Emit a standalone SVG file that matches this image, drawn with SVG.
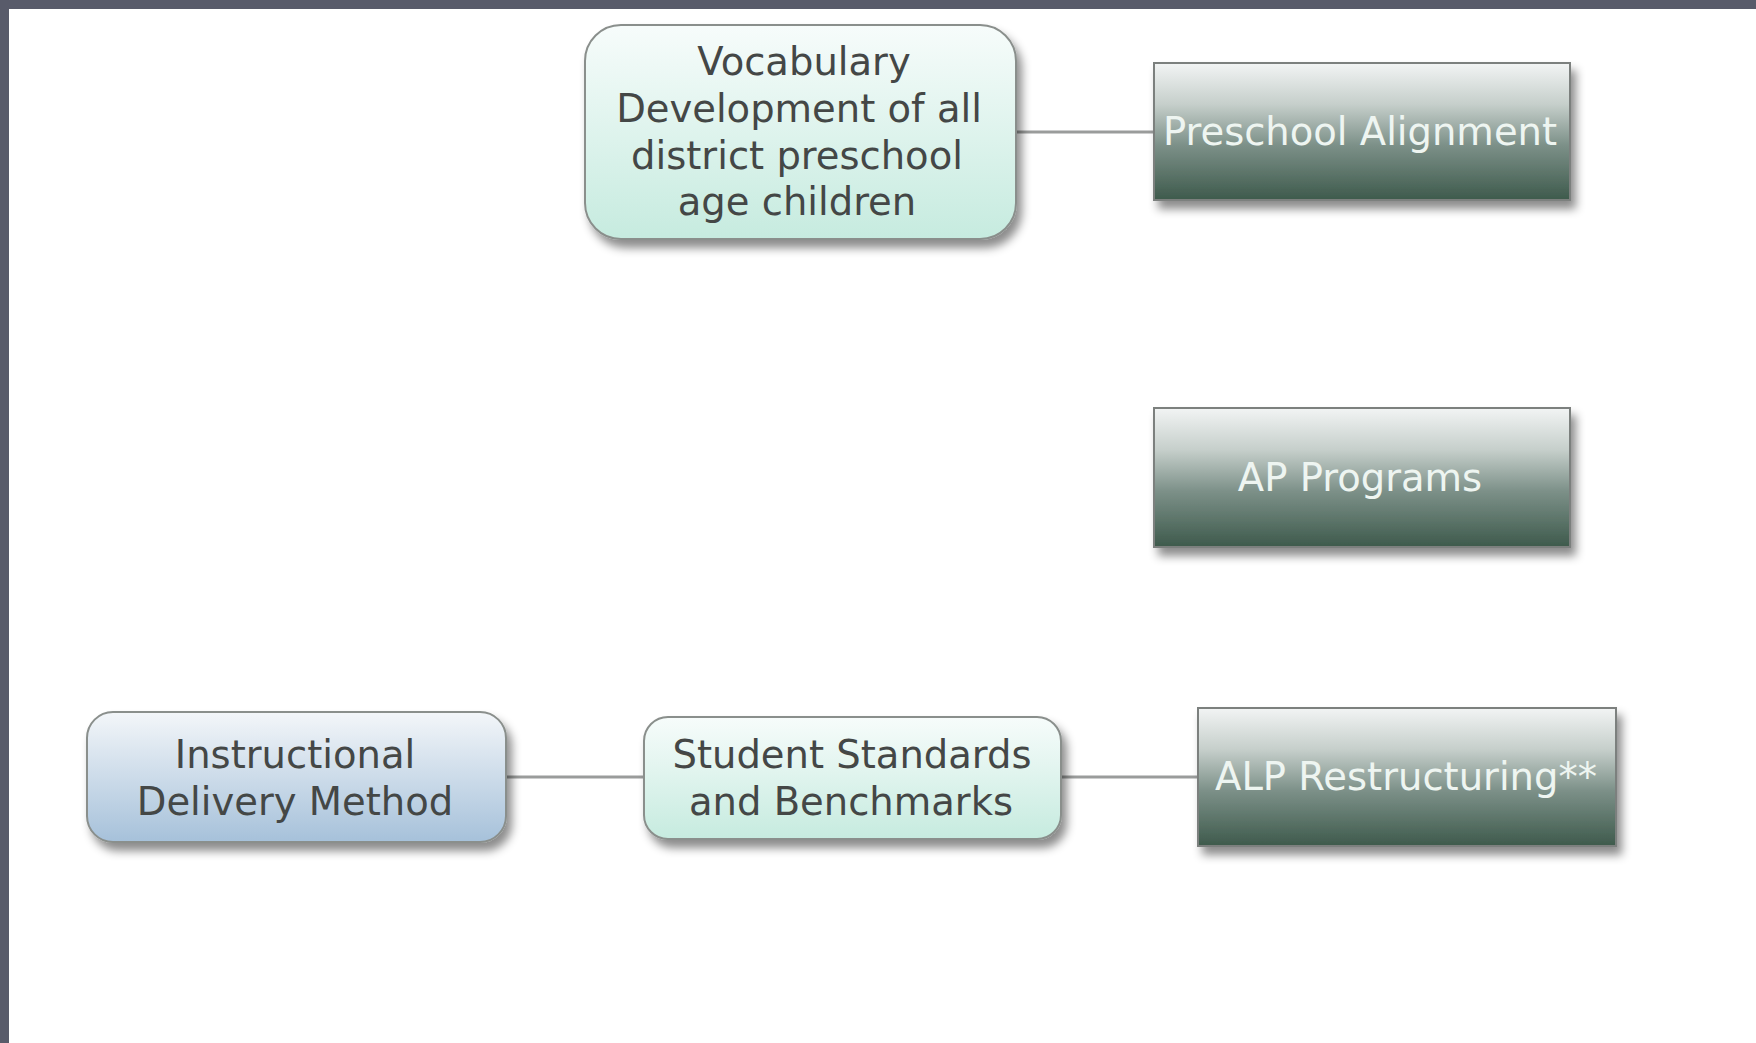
<svg xmlns="http://www.w3.org/2000/svg" width="1756" height="1043" viewBox="0 0 1756 1043">
  <defs>
    <linearGradient id="mint" x1="0" y1="0" x2="0" y2="1">
      <stop offset="0" stop-color="#f7fcfb"/>
      <stop offset="1" stop-color="#c6ebdf"/>
    </linearGradient>
    <linearGradient id="blue" x1="0" y1="0" x2="0" y2="1">
      <stop offset="0" stop-color="#f3f6f9"/>
      <stop offset="1" stop-color="#a6c1da"/>
    </linearGradient>
    <linearGradient id="dark" x1="0" y1="0" x2="0" y2="1">
      <stop offset="0" stop-color="#f2f4f4"/>
      <stop offset="0.3" stop-color="#c6cfcb"/>
      <stop offset="0.6" stop-color="#7c9088"/>
      <stop offset="1" stop-color="#3e5a4c"/>
    </linearGradient>
    <filter id="shadow" x="-10%" y="-10%" width="125%" height="140%">
      <feDropShadow dx="5" dy="8" stdDeviation="5" flood-color="#000" flood-opacity="0.45"/>
    </filter>
  </defs>
  <style>
    .frame { fill: #585b6a; }
    .soft { stroke: #8a8f8c; stroke-width: 2; filter: url(#shadow); }
    .box { stroke: #7c807e; stroke-width: 2; fill: url(#dark); filter: url(#shadow); }
    .lt { font-family: "DejaVu Sans", Verdana, sans-serif; font-size: 38.5px; fill: #444746; text-anchor: middle; }
    .wt { font-family: "DejaVu Sans", Verdana, sans-serif; font-size: 38.5px; fill: #eef5f1; text-anchor: middle; }
    .conn { stroke: #9a9c9b; stroke-width: 3; fill: none; }
  </style>
  <rect class="frame" x="0" y="0" width="1756" height="1043"/>
  <rect x="9" y="9" width="1747" height="1034" fill="#ffffff"/>

  <g id="connectors">
    <line class="conn" x1="1016" y1="132" x2="1154" y2="132"/>
    <line class="conn" x1="506" y1="777" x2="644" y2="777"/>
    <line class="conn" x1="1061" y1="777" x2="1198" y2="777"/>
  </g>

  <g id="vocab">
    <rect class="soft" x="585" y="25" width="431" height="214" rx="36" fill="url(#mint)"/>
    <text class="lt" x="804" y="75">Vocabulary</text>
    <text class="lt" x="799" y="122">Development of all</text>
    <text class="lt" x="797" y="169">district preschool</text>
    <text class="lt" x="797" y="215">age children</text>
  </g>

  <g id="preschool">
    <rect class="box" x="1154" y="63" width="416" height="137"/>
    <text class="wt" x="1360" y="145">Preschool Alignment</text>
  </g>

  <g id="ap">
    <rect class="box" x="1154" y="408" width="416" height="139"/>
    <text class="wt" x="1360" y="491">AP Programs</text>
  </g>

  <g id="instructional">
    <rect class="soft" x="87" y="712" width="419" height="130" rx="26" fill="url(#blue)"/>
    <text class="lt" x="295" y="768">Instructional</text>
    <text class="lt" x="295" y="815">Delivery Method</text>
  </g>

  <g id="standards">
    <rect class="soft" x="644" y="717" width="417" height="122" rx="24" fill="url(#mint)"/>
    <text class="lt" x="852" y="768">Student Standards</text>
    <text class="lt" x="851" y="815">and Benchmarks</text>
  </g>

  <g id="alp">
    <rect class="box" x="1198" y="708" width="418" height="138"/>
    <text class="wt" x="1406" y="790">ALP Restructuring**</text>
  </g>
</svg>
